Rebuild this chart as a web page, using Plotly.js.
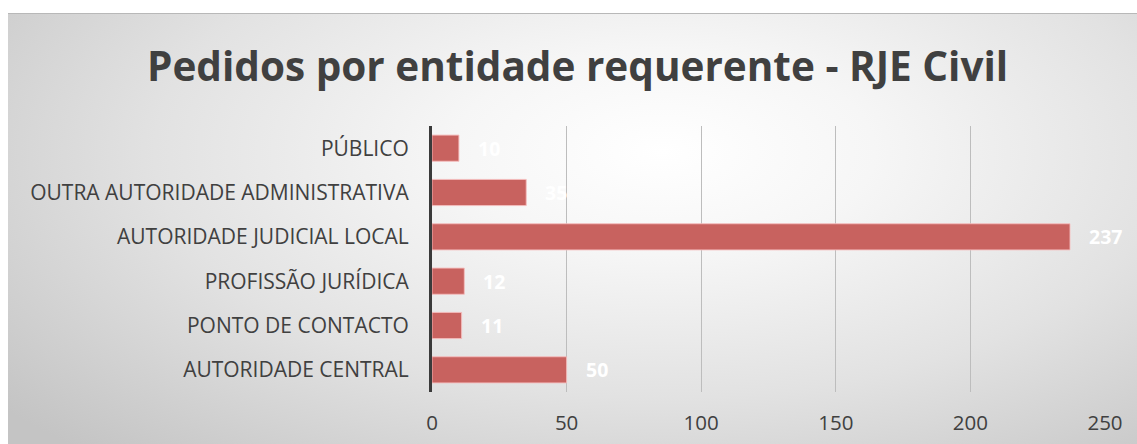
<!DOCTYPE html>
<html>
<head>
<meta charset="utf-8">
<script src="https://cdn.plot.ly/plotly-3.0.1.min.js"></script>
<style>
  html, body { margin: 0; padding: 0; background: #ffffff; width: 1137px; height: 444px; overflow: hidden; }
  #bg { position: absolute; left: 8px; top: 13px; width: 1129px; height: 431px;
        border-top: 1px solid #b8b8b8;
        background: radial-gradient(ellipse 75% 95% at 58% 32%, #ffffff 0%, #f6f6f6 25%, #e2e2e2 60%, #c4c4c4 100%); }
  #chart { position: absolute; left: 0; top: 0; width: 1137px; height: 444px; }
</style>
</head>
<body>
<div id="bg"></div>
<div id="chart"></div>
<script>
const categories = ["PÚBLICO", "OUTRA AUTORIDADE ADMINISTRATIVA", "AUTORIDADE JUDICIAL LOCAL", "PROFISSÃO JURÍDICA", "PONTO DE CONTACTO", "AUTORIDADE CENTRAL"];
const values = [10, 35, 237, 12, 11, 50];
const xTicks = [0, 50, 100, 150, 200, 250];
const titleText = "Pedidos por entidade requerente - RJE Civil";

const trace = {
  type: "bar",
  orientation: "h",
  x: values,
  y: categories,
  marker: { color: "#c8625f", line: { color: "rgba(245,190,190,0.9)", width: 1 } },
  hoverinfo: "none"
};

const annotations = values.map((v, i) => ({
  x: v, y: categories[i], xref: "x", yref: "y",
  text: String(v), showarrow: false, xanchor: "left", yanchor: "middle",
  xshift: 17,
  font: { family: "Open Sans", size: 19.5, color: "#ffffff", weight: "bold" }
}));

const layout = {
  width: 1137, height: 444,
  paper_bgcolor: "rgba(0,0,0,0)", plot_bgcolor: "rgba(0,0,0,0)",
  margin: { l: 432, r: 32, t: 126, b: 52, pad: 0 },
  title: { text: "<b>" + titleText + "</b>", x: 0.508, xanchor: "center", y: 1 - 67/444, yanchor: "middle", yref: "container",
           font: { family: "Open Sans", size: 40.5, color: "#404040" } },
  bargap: 0.41,
  showlegend: false,
  xaxis: {
    range: [0, 250], tickvals: xTicks, ticktext: xTicks.map(String),
    showgrid: true, gridcolor: "#bdbdbd", gridwidth: 1, zeroline: false, showline: false,
    ticks: "", ticklabelstandoff: 16,
    tickfont: { family: "Open Sans", size: 20.5, color: "#404040" }, fixedrange: true
  },
  yaxis: {
    autorange: "reversed", type: "category",
    showgrid: false, zeroline: false, showline: true, linecolor: "#3a3a3a", linewidth: 3,
    ticks: "", ticklabelstandoff: 16,
    tickfont: { family: "Open Sans", size: 21, color: "#404040" }, fixedrange: true
  },
  annotations: annotations
};

Plotly.newPlot("chart", [trace], layout, { displayModeBar: false, staticPlot: true });
</script>
</body>
</html>
